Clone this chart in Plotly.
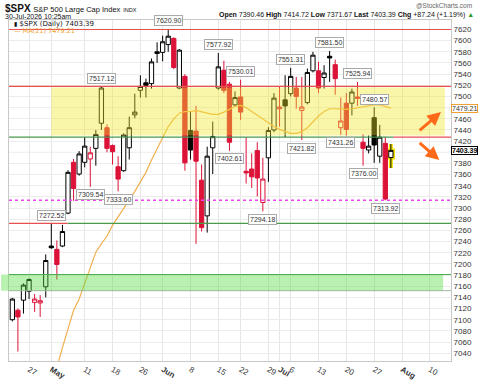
import plotly.graph_objects as go

# ---------------- data ----------------
dates = ["2026-04-22","2026-04-23","2026-04-24","2026-04-27","2026-04-28","2026-04-29","2026-04-30","2026-05-01",
         "2026-05-04","2026-05-05","2026-05-06","2026-05-07","2026-05-08","2026-05-11","2026-05-12","2026-05-13",
         "2026-05-14","2026-05-15","2026-05-18","2026-05-19","2026-05-20","2026-05-21","2026-05-22","2026-05-26",
         "2026-05-27","2026-05-28","2026-05-29","2026-06-01","2026-06-02","2026-06-03","2026-06-04","2026-06-05",
         "2026-06-08","2026-06-09","2026-06-10","2026-06-11","2026-06-12","2026-06-15","2026-06-16","2026-06-17",
         "2026-06-18","2026-06-22","2026-06-23","2026-06-24","2026-06-25","2026-06-26","2026-06-29","2026-06-30",
         "2026-07-01","2026-07-02","2026-07-06","2026-07-07","2026-07-08","2026-07-09","2026-07-10","2026-07-13",
         "2026-07-14","2026-07-15","2026-07-16","2026-07-17","2026-07-20","2026-07-21","2026-07-22","2026-07-23",
         "2026-07-24","2026-07-27","2026-07-28","2026-07-29","2026-07-30"]
opens  = [7100,7117,7135,7151,7131,7130,7159,7232,7226,7232,7291,7382,7361,7382,7388,7407,
          7452,7444,7412,7374,7367,7408,7467,7511,7524.5,7523,7580,7579,7593,7604,7515,7536,
          7439,7438,7350,7286,7408,7515,7547,7522,7485,7499,7366,7370,7403,7310,7390,7440,
          7478,7494,7505,7515,7475,7489,7546,7546,7534,7572,7557,7444,7488,7488,7499,7418,
          7404,7462,7393,7416,7390.46]
highs  = [7139,7120,7165,7174,7146,7144,7217,7272.52,7242,7270,7368,7388,7402,7427,7410,7440,
          7517.12,7450,7414,7393,7434,7464,7505,7538,7532,7568,7597,7609,7620.90,7606,7585,7540,
          7472,7483,7378,7410,7455,7577.92,7564,7526,7509,7530.01,7427,7398,7418,7390,7445,7506,
          7518,7538,7551.31,7535,7535,7550,7580,7562,7556,7581.50,7566,7498,7506,7514,7525.94,7432,
          7430,7480.57,7449,7428,7414.72]
lows   = [7097,7043,7111,7137,7114,7105,7140,7227,7172,7230,7289,7313,7358,7373,7338,7376,
          7440,7400,7378,7330,7365,7387,7461,7498,7498,7514,7560,7563,7580,7549,7513,7367,
          7387,7236,7258,7256,7361,7512,7506,7402.61,7482,7458,7344,7336,7321,7294.18,7347,7436,
          7446,7427,7500,7478,7421.82,7486,7543,7506,7514,7526,7503,7431.26,7430,7466,7483,7376.00,
          7398,7381,7381,7313.92,7371.67]
closes = [7137,7105,7162,7172,7137,7134,7206,7229,7199,7258,7364,7335,7397,7411,7399,7432,
          7515,7407,7401,7352,7431,7444,7472,7518,7520,7562,7577,7598,7608,7552,7583,7381,
          7404,7384,7265,7393,7428,7553,7511,7418,7498,7472,7363,7356,7354,7352,7439,7497,
          7481,7483,7536,7500,7481,7543,7574,7515,7542,7569,7532,7456,7441,7508,7497,7407,
          7411,7413,7427,7316.15,7403.39]
ma21   = [None,None,None,None,None,None,None,6985,7014,7050,7083,7117,7137,7166,7194,7221,
          7236,7250,7269,7284,7299,7313,7330,7347,7364,7386,7407,7426,7446,7460,7470,7473,
          7473,7475,7472,7470,7468,7468,7472,7477,7482,7484,7480,7473,7466,7460,7453,7446,
          7441,7437,7434,7434,7437,7444,7454,7465,7473,7478,7478,7477,7477,7478,7480,7482,
          7484,7485,7485,7482,7479.21]
future_dates = ["2026-07-31","2026-08-03","2026-08-04","2026-08-05","2026-08-06","2026-08-07",
                "2026-08-10","2026-08-11","2026-08-12","2026-08-13","2026-08-14"]
tick_dates = ["2026-04-27","2026-05-01","2026-05-11","2026-05-18","2026-05-26","2026-06-01","2026-06-08",
              "2026-06-15","2026-06-22","2026-06-29","2026-07-01","2026-07-06","2026-07-13","2026-07-20",
              "2026-07-27","2026-08-03","2026-08-10"]
tick_text = ["27","<b>May</b>","11","18","26","<b>Jun</b>","8","15","22","29","<b>Jul</b>","6","13","20",
             "27","<b>Aug</b>","10"]
price_ticks = list(range(7040, 7621, 20))
# swing labels as printed on the chart
high_label_dates = ["2026-05-01","2026-05-14","2026-06-02","2026-06-15","2026-06-22","2026-07-06",
                    "2026-07-15","2026-07-22","2026-07-27"]
high_label_text = ["7272.52","7517.12","7620.90","7577.92","7530.01","7551.31","7581.50","7525.94","7480.57"]
low_label_dates = ["2026-05-12","2026-05-19","2026-06-17","2026-06-26","2026-07-08","2026-07-17",
                   "2026-07-23","2026-07-29"]
low_label_text = ["7309.54","7333.60","7402.61","7294.18","7421.82","7431.26","7376.00","7313.92"]
levels_red = [7620, 7518]
level_green = 7427
level_dotted = 7313.92
level_mixed = 7272.52
yellow_zone = (7430, 7516)
green_zone = (7152, 7181)

# ---------------- derived ----------------
all_dates = dates + future_dates
idx = {d: i for i, d in enumerate(all_dates)}
xi = [idx[d] for d in dates]
prev = [opens[0]] + closes[:-1]
up = [i for i in range(len(dates)) if closes[i] >= prev[i]]
dn = [i for i in range(len(dates)) if closes[i] < prev[i]]
# tick labels hidden behind the value tags
tags = [ma21[-1], closes[-1]]
shown_ticks = [t for t in price_ticks if all(abs(t - v) > 10 for v in tags)]

RED = "#dc1238"
fig = go.Figure()

def sub(ids):
    return dict(x=[xi[i] for i in ids], open=[opens[i] for i in ids], high=[highs[i] for i in ids],
                low=[lows[i] for i in ids], close=[closes[i] for i in ids])

last = [len(dates) - 1]
fig.add_trace(go.Candlestick(**sub(last),
    increasing=dict(line=dict(color="#f2e600", width=4), fillcolor="#f2e600"),
    decreasing=dict(line=dict(color="#f2e600", width=4), fillcolor="#f2e600"),
    hoverinfo="skip", showlegend=False))
fig.add_trace(go.Candlestick(**sub(up),
    increasing=dict(line=dict(color="#000000", width=1), fillcolor="white"),
    decreasing=dict(line=dict(color="#000000", width=1), fillcolor="#000000"),
    showlegend=False))
fig.add_trace(go.Candlestick(**sub(dn),
    increasing=dict(line=dict(color=RED, width=1), fillcolor="white"),
    decreasing=dict(line=dict(color=RED, width=1), fillcolor=RED),
    showlegend=False))
fig.add_trace(go.Scatter(x=xi, y=ma21, mode="lines", line=dict(color="#f0b050", width=1.2),
                         showlegend=False, hoverinfo="skip"))

PL, PR, PT, PB = 8, 453, 20, 378
def px(x): return (x - PL) / (PR - PL)
def py(y): return (PB - y) / (PB - PT)

shapes = []
shapes.append(dict(type="rect", xref="x", yref="y", x0=idx["2026-05-01"], x1=idx["2026-08-12"] + 0.7,
                   y0=yellow_zone[0], y1=yellow_zone[1], fillcolor="rgba(240,230,40,0.40)",
                   line=dict(width=0), layer="above"))
shapes.append(dict(type="rect", xref="paper", yref="y", x0=px(0), x1=px(445),
                   y0=green_zone[0], y1=green_zone[1], fillcolor="rgba(80,220,60,0.40)",
                   line=dict(width=0), layer="above"))
shapes.append(dict(type="line", xref="paper", yref="y", x0=0, x1=1, y0=green_zone[1], y1=green_zone[1],
                   line=dict(color="#4caf50", width=1.2), layer="above"))
shapes.append(dict(type="line", xref="paper", yref="y", x0=0, x1=1, y0=green_zone[0], y1=green_zone[0],
                   line=dict(color="#9ab89a", width=1), layer="above"))
for lv in levels_red:
    shapes.append(dict(type="line", xref="paper", yref="y", x0=0, x1=1, y0=lv, y1=lv,
                       line=dict(color="#e85050", width=1.2), layer="above"))
shapes.append(dict(type="line", xref="paper", yref="y", x0=0, x1=0.87, y0=level_green, y1=level_green,
                   line=dict(color="#4a9a4a", width=1.2), layer="above"))
shapes.append(dict(type="line", xref="paper", yref="y", x0=0.87, x1=1, y0=level_green, y1=level_green,
                   line=dict(color="#e85050", width=1.2), layer="above"))
shapes.append(dict(type="line", xref="paper", yref="y", x0=0, x1=1, y0=level_dotted, y1=level_dotted,
                   line=dict(color="#ee44ee", width=1.5, dash="dot"), layer="above"))
shapes.append(dict(type="line", xref="paper", yref="y", x0=0, x1=px(67), y0=level_mixed, y1=level_mixed,
                   line=dict(color="#e85050", width=1.2), layer="above"))
shapes.append(dict(type="line", xref="paper", yref="y", x0=px(67), x1=1, y0=level_mixed, y1=level_mixed,
                   line=dict(color="#4a9a4a", width=1.2), layer="above"))

ann = []
lab = dict(showarrow=False, font=dict(size=7, color="#333"), bgcolor="white",
           bordercolor="#aaa", borderwidth=1, borderpad=1, xref="x", yref="y")
for d, t in zip(high_label_dates, high_label_text):
    i = dates.index(d)
    ann.append(dict(x=xi[i], y=highs[i], text=t, yshift=8, **lab))
for d, t in zip(low_label_dates, low_label_text):
    i = dates.index(d)
    ann.append(dict(x=xi[i], y=lows[i], text=t, yshift=-8, **lab))

ann.append(dict(x=77.0, y=7472, ax=72.9, ay=7437, xref="x", yref="y", axref="x", ayref="y",
                showarrow=True, arrowhead=2, arrowsize=0.9, arrowwidth=3, arrowcolor="#ff6a1a", text=""))
ann.append(dict(x=76.7, y=7386, ax=72.9, ay=7419, xref="x", yref="y", axref="x", ayref="y",
                showarrow=True, arrowhead=2, arrowsize=0.9, arrowwidth=3, arrowcolor="#ff6a1a", text=""))

ann.append(dict(x=1, y=ma21[-1], xref="paper", yref="y", xanchor="left", xshift=0, showarrow=False,
                text=f"{ma21[-1]:.2f}", font=dict(size=7, color="#333"), bgcolor="white",
                bordercolor="#f0a030", borderwidth=1, borderpad=0))
ann.append(dict(x=1, y=closes[-1], xref="paper", yref="y", xanchor="left", xshift=0, showarrow=False,
                text=f"<b>{closes[-1]:.2f}</b>", font=dict(size=7, color="#000"), bgcolor="white",
                bordercolor="#000", borderwidth=1, borderpad=0))

hdr = dict(xref="paper", yref="paper", showarrow=False)
ann.append(dict(x=px(2), y=py(8), xanchor="left", yanchor="middle",
                text="<b>$SPX</b> <span style='font-size:7.5px'>S&P 500 Large Cap Index</span> <span style='font-size:5.5px'>INDX</span>",
                font=dict(size=10, color="#111"), **hdr))
ann.append(dict(x=px(2), y=py(16), xanchor="left", yanchor="middle", text="30-Jul-2026 10:25am",
                font=dict(size=7, color="#111"), **hdr))
ann.append(dict(x=px(476), y=py(5), xanchor="right", yanchor="middle", text="@StockCharts.com",
                font=dict(size=6.5, color="#666"), **hdr))
chg = closes[-1] - closes[-2]
ann.append(dict(x=px(478), y=py(15), xanchor="right", yanchor="middle",
                text=(f"<b>Open</b> {opens[-1]:.2f} <b>High</b> {highs[-1]:.2f} <b>Low</b> {lows[-1]:.2f} "
                      f"<b>Last</b> {closes[-1]:.2f} <b>Chg</b> +{chg:.2f} (+{chg / closes[-2] * 100:.2f}%) "
                      "<span style='color:#2a9a2a'>▲</span>"),
                font=dict(size=7, color="#111"), **hdr))
ann.append(dict(x=px(11), y=py(24), xanchor="left", yanchor="middle",
                text=f"<span style='font-size:6px'>▮</span> $SPX (Daily) {closes[-1]:.2f}",
                font=dict(size=7, color="#111", family="DejaVu Sans"), **hdr))
ann.append(dict(x=px(11), y=py(31.5), xanchor="left", yanchor="middle",
                text=f"— MA(21) {ma21[-1]:.2f}",
                font=dict(size=6.5, color="#f0a030", family="DejaVu Sans"), **hdr))

fig.update_layout(
    width=480, height=389, margin=dict(l=PL, r=480 - PR, t=PT, b=389 - PB),
    paper_bgcolor="white", plot_bgcolor="white",
    font=dict(family="Liberation Sans, Arial", size=8, color="#333"),
    boxgap=0.15, boxgroupgap=0.1, showlegend=False,
    shapes=shapes, annotations=ann,
    xaxis=dict(range=[-0.6, 78.8], tickvals=[idx[d] for d in tick_dates], ticktext=tick_text,
               showgrid=True, gridcolor="#e6e6e6", gridwidth=1, zeroline=False,
               showline=True, linecolor="#c8c8c8", mirror=True, ticks="", tickfont=dict(size=8, color="#333"),
               rangeslider=dict(visible=False)),
    yaxis=dict(range=[7026, 7637], side="right", tickmode="array", tickvals=shown_ticks,
               ticktext=[str(t) for t in shown_ticks], showgrid=True, gridcolor="#ececec",
               zeroline=False, showline=True, linecolor="#c8c8c8", mirror=True, ticks="",
               tickfont=dict(size=8, color="#333")),
)
# keep gridlines at every 20 points, including those behind the tags
for t in price_ticks:
    if t not in shown_ticks:
        fig.add_shape(type="line", xref="paper", yref="y", x0=0, x1=1, y0=t, y1=t,
                      line=dict(color="#ececec", width=1), layer="below")
fig.write_html("out.html")
